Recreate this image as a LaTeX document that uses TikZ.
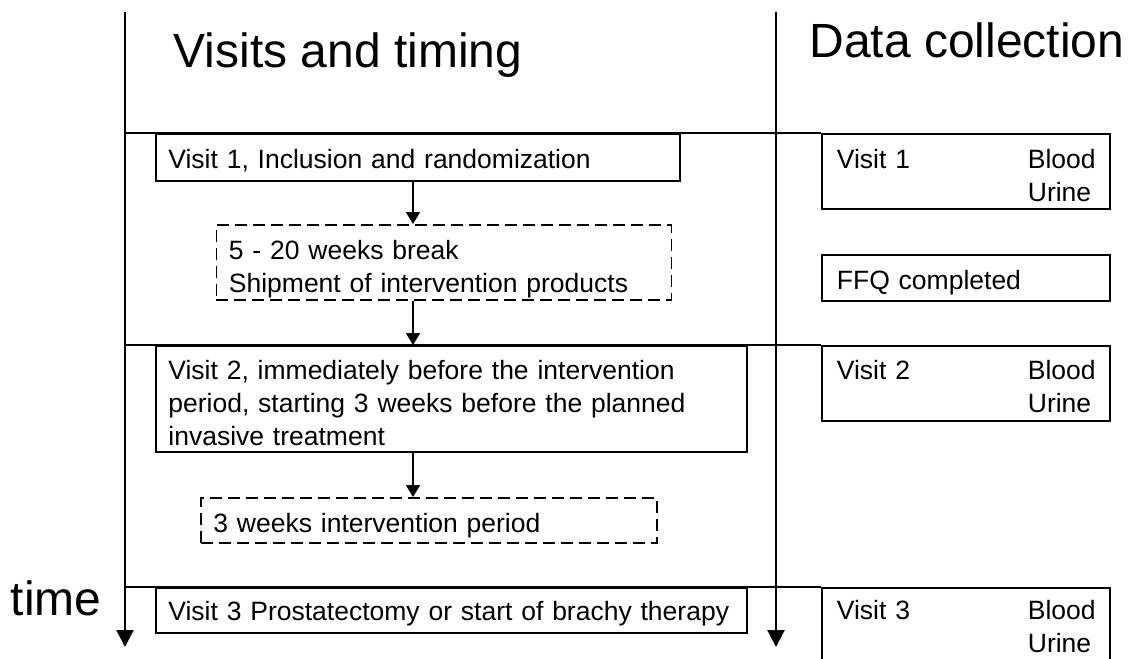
\documentclass[tikz,border=0pt]{standalone}
\usepackage{fontspec}
\setmainfont{Liberation Sans}
\usetikzlibrary{arrows.meta}
\newcommand{\smalltext}{\fontsize{26.5}{33}\selectfont}
\newcommand{\bigtext}{\fontsize{48}{58}\selectfont}
\newcommand{\tabbed}[1]{\makebox[67pt][l]{#1}}
\begin{document}
\begin{tikzpicture}[x=1pt, y=-1pt,
	box/.style={draw, line width=1.8pt, anchor=north west, align=left, inner xsep=12.5pt, inner ysep=0pt, font=\smalltext},
	pause/.style={box, dash pattern=on 12pt off 6pt},
	datbox/.style={box, inner xsep=15pt, text width=258pt},
	flow/.style={-{Triangle[length=12pt,width=14pt]}, line width=1.8pt},
	timeaxis/.style={-{Triangle[length=17pt,width=17pt]}, line width=2.2pt},
	divider/.style={line width=1.8pt}]
	\useasboundingbox (0,0) rectangle (1128,659);
	\clip (0,0) rectangle (1128,659);
	% time axes
	\coordinate (lt) at (125,12);
	\coordinate (lb) at (125,647);
	\coordinate (mt) at (776,12);
	\coordinate (mb) at (776,647);
	\draw[timeaxis] (lt) -- (lb);
	\draw[timeaxis] (mt) -- (mb);
	\node[font=\bigtext, anchor=base] (ttl) at (348,67) {Visits and timing};
	\node[font=\bigtext, anchor=base] (ttr) at (967,57) {Data collection};
	\node[font=\bigtext, anchor=base] (time) at (56,615) {time};
	% visits
	\node[box, text width=499pt, text height=35pt, text depth=12pt] (v1) at (155,133) {Visit 1, Inclusion and randomization};
	\node[pause, text width=430pt, text height=35pt, text depth=40pt] (br1) at (215.5,224) {5 - 20 weeks break\\Shipment of intervention products};
	\node[box, text width=566pt, text height=34pt, text depth=72pt] (v2) at (155,345) {Visit 2, immediately before the intervention\\period, starting 3 weeks before the planned\\invasive treatment};
	\node[pause, text width=431pt, text height=35pt, text depth=10pt] (br2) at (200,497) {3 weeks intervention period};
	\node[box, text width=566pt, text height=33pt, text depth=12pt] (v3) at (155,587) {Visit 3 Prostatectomy or start of brachy therapy};
	% data collection
	\node[datbox, text height=35pt, text depth=40pt] (d1) at (821,133) {Visit 1\hfill\tabbed{Blood}\\\mbox{}\hfill\tabbed{Urine}};
	\node[datbox, text height=35pt, text depth=11pt] (ffq) at (821,254) {FFQ completed};
	\node[datbox, text height=34pt, text depth=41pt] (d2) at (821,345) {Visit 2\hfill\tabbed{Blood}\\\mbox{}\hfill\tabbed{Urine}};
	\node[datbox, text height=32pt, text depth=53pt] (d3) at (821,587) {Visit 3\hfill\tabbed{Blood}\\\mbox{}\hfill\tabbed{Urine}};
	% dividers
	\draw[divider] (lt |- d1.north) -- (d1.north west);
	\draw[divider] (lt |- d2.north) -- (d2.north west);
	\draw[divider] (lt |- d3.north) -- (d3.north west);
	% flow
	\coordinate (ax) at (413,0);
	\draw[flow] (v1.south -| ax) -- (br1.north -| ax);
	\draw[flow] (br1.south -| ax) -- (v2.north -| ax);
	\draw[flow] (v2.south -| ax) -- (br2.north -| ax);
\end{tikzpicture}
\end{document}
